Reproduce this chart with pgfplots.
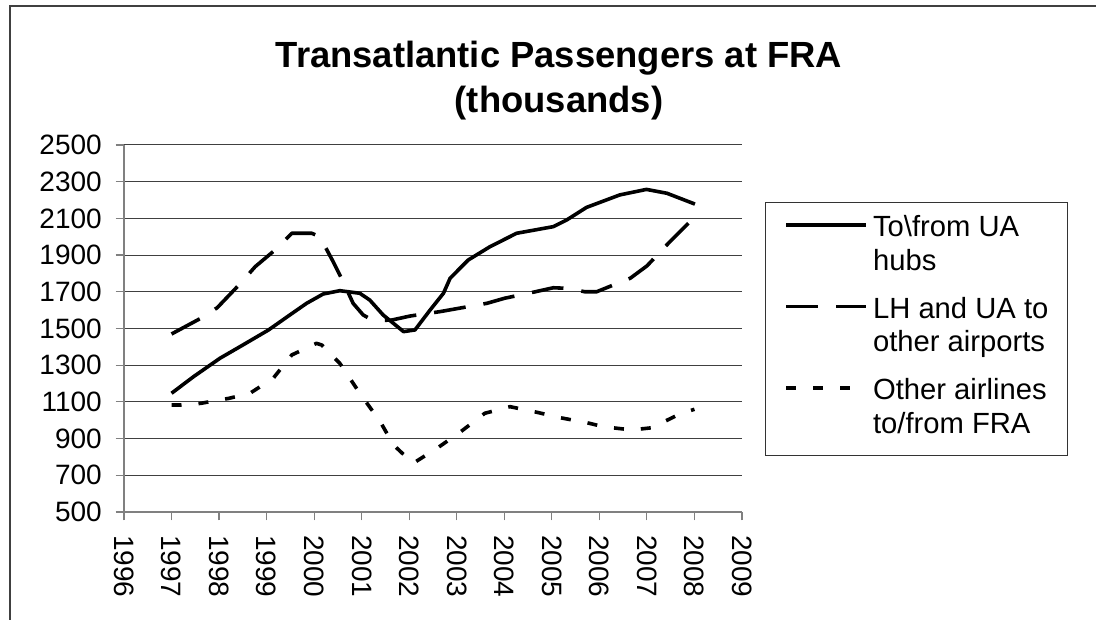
\documentclass[border=0pt]{standalone}
\usepackage{fontspec}
\setmainfont{Liberation Sans}
\usepackage{pgfplots}
\pgfplotsset{compat=1.18}
\begin{document}
\fontsize{14pt}{16.75pt}\selectfont
\begin{tikzpicture}
\useasboundingbox (0,0) rectangle (548pt,310pt);
\draw[line width=1pt, black!75] (5pt,-5pt) -- (5pt,307pt) -- (560pt,307pt);
\node[anchor=base, font=\fontsize{18.2pt}{22pt}\selectfont\bfseries] at (279.5pt,276pt) {Transatlantic Passengers at FRA};
\node[anchor=base, font=\fontsize{18.2pt}{22pt}\selectfont\bfseries] at (279.5pt,253.5pt) {(thousands)};
\begin{axis}[
  at={(62pt,54pt)}, anchor=south west,
  scale only axis, width=309pt, height=183.5pt,
  xmin=1996, xmax=2009, ymin=500, ymax=2500,
  xtick={1996,...,2009}, ytick={500,700,...,2500},
  axis x line=bottom, axis y line=left,
  axis line style={-, draw=black!50, line width=0.6pt},
  tick align=outside, major tick length=4.25pt,
  tick style={draw=black!50, line width=0.6pt},
  ymajorgrids, grid style={black!75, line width=0.5pt},
  /pgf/number format/1000 sep={},
  /pgf/number format/assume math mode=true,
  ticklabel style={font=\fontsize{14pt}{16.75pt}\selectfont},
  xticklabel style={rotate=-90, anchor=west},
  xticklabel shift=2.5pt, yticklabel shift=2pt,
  legend style={at={(axis description cs:1.0372,0.8447)}, anchor=north west,
    draw=black!80, line width=0.5pt, inner xsep=9.5pt, inner ysep=5pt,
    row sep=0pt, cells={anchor=base west},
    nodes={inner sep=0pt, font=\fontsize{14.6pt}{17pt}\selectfont}},
  legend image code/.code={\draw[#1, line cap=butt] (0pt,6pt) -- (40pt,6pt); \path (42.5pt,6pt);},
]
\addplot[black, line width=1.8pt, line join=round] coordinates {
(1997.0,1147) (1997.46,1237) (1998.02,1338) (1998.5,1410) (1999.04,1492)
(1999.49,1574) (1999.84,1637) (2000.19,1688) (2000.54,1706) (2000.96,1692)
(2001.17,1655) (2001.45,1574) (2001.88,1483) (2002.12,1492) (2002.44,1601)
(2002.72,1692) (2002.86,1774) (2003.24,1873) (2003.70,1946) (2004.26,2019)
(2005.03,2055) (2005.31,2091) (2005.73,2160) (2006.43,2228) (2006.99,2258)
(2007.42,2237) (2008.01,2178)};
\addlegendentry[text height=12.25pt, text depth=4.5pt]{To\textbackslash from UA}
\addlegendimage{empty legend}
\addlegendentry[text height=12.25pt, text depth=11.75pt]{hubs}
\addplot[black, line width=1.8pt, line join=round, dash pattern=on 16pt off 9pt] coordinates {
(1997.0,1470) (1997.61,1555) (1997.96,1613) (1998.45,1746) (1998.76,1837)
(1999.22,1937) (1999.53,2019) (1999.95,2019) (2000.12,2000) (2000.40,1864)
(2000.61,1755) (2000.82,1637) (2001.03,1574) (2001.24,1543) (2001.63,1546)
(2002.02,1568) (2002.65,1592) (2003.63,1637) (2004.01,1665) (2004.65,1700)
(2005.03,1722) (2005.31,1719) (2005.70,1700) (2005.94,1700) (2006.65,1774)
(2007.00,1841) (2007.45,1964) (2008.01,2109)};
\addlegendentry[text height=12.25pt, text depth=4.5pt]{LH and UA to}
\addlegendimage{empty legend}
\addlegendentry[text height=12.25pt, text depth=11.75pt]{other airports}
\addplot[black, line width=1.8pt, line join=round, dash pattern=on 5pt off 8.5pt] coordinates {
(1997.0,1083) (1997.2,1083) (1997.61,1092) (1998.2,1119) (1998.65,1147)
(1999.14,1229) (1999.53,1356) (2000.05,1419) (2000.16,1410) (2000.54,1310)
(2000.96,1147) (2001.39,992) (2001.67,865) (2002.08,765) (2002.6,850)
(2003.07,935) (2003.59,1038) (2004.12,1074) (2004.71,1042) (2005.13,1016)
(2005.73,987) (2006.08,965) (2006.68,947) (2007.10,959) (2007.65,1029)
(2008.0,1060)};
\addlegendentry[text height=12.25pt, text depth=4.5pt]{Other airlines}
\addlegendimage{empty legend}
\addlegendentry[text height=12.25pt, text depth=6pt]{to/from FRA}
\end{axis}
\end{tikzpicture}
\end{document}
